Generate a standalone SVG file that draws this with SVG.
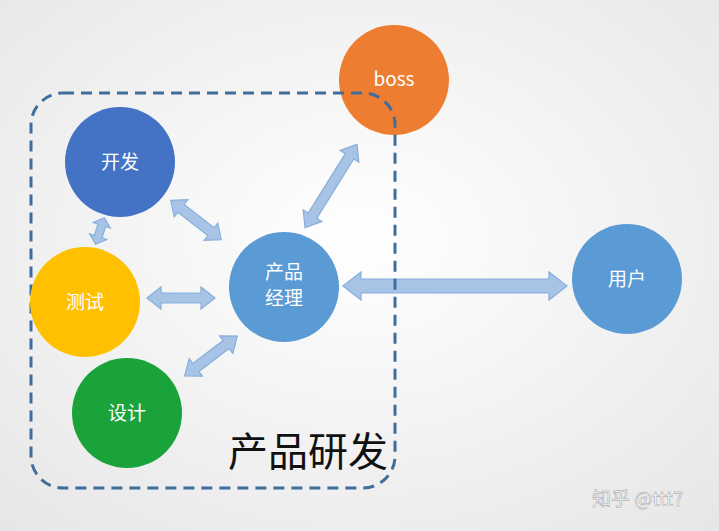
<svg xmlns="http://www.w3.org/2000/svg" width="719" height="531" viewBox="0 0 719 531">
<defs>
<radialGradient id="bg" cx="0.5" cy="0.45" r="0.75">
<stop offset="0" stop-color="#ffffff"/><stop offset="1" stop-color="#e6e6e6"/>
</radialGradient>
<style>
.c{stroke:none}
.t{font-family:"Noto Sans CJK SC","Liberation Sans",sans-serif;fill:#fff;font-size:19px;text-anchor:middle}
.a{fill:#a7c4e6;stroke:#86aedb;stroke-width:1.2}
</style>
</defs>
<rect width="719" height="531" fill="url(#bg)"/>
<g id="connectors">
<path class="a" transform="translate(196,220) rotate(38)" d="M-32,0 L-19,-11 L-19,-5 L19,-5 L19,-11 L32,0 L19,11 L19,5 L-19,5 L-19,11 Z"/>
<path class="a" transform="translate(100,231) rotate(-72)" d="M-14,0 L-6,-9 L-6,-4 L6,-4 L6,-9 L14,0 L6,9 L6,4 L-6,4 L-6,9 Z"/>
<path class="a" transform="translate(181,298)" d="M-34,0 L-20,-11 L-20,-5 L20,-5 L20,-11 L34,0 L20,11 L20,5 L-20,5 L-20,11 Z"/>
<path class="a" transform="translate(211,356) rotate(-37)" d="M-33,0 L-19,-11 L-19,-5 L19,-5 L19,-11 L33,0 L19,11 L19,5 L-19,5 L-19,11 Z"/>
<path class="a" transform="translate(331,186) rotate(-58)" d="M-49,0 L-35,-11 L-35,-5 L35,-5 L35,-11 L49,0 L35,11 L35,5 L-35,5 L-35,11 Z"/>
<path class="a" transform="translate(455,286)" d="M-112,0 L-94,-14 L-94,-7 L94,-7 L94,-14 L112,0 L94,14 L94,7 L-94,7 L-94,14 Z"/>
</g>
<g id="boss"><circle class="c" cx="394" cy="80" r="55" fill="#ed7d31"/><text class="t" x="394" y="86">boss</text></g>
<rect x="31" y="93" width="364" height="395" rx="32" fill="none" stroke="#3f6e9c" stroke-width="3" stroke-dasharray="11,7"/>
<g id="kaifa"><circle class="c" cx="120" cy="162" r="55" fill="#4472c4"/><text class="t" x="120" y="169">开发</text></g>
<g id="ceshi"><circle class="c" cx="85" cy="302" r="55" fill="#ffc000"/><text class="t" x="85" y="309">测试</text></g>
<g id="sheji"><circle class="c" cx="127" cy="413" r="55" fill="#1aa33a"/><text class="t" x="127" y="420">设计</text></g>
<g id="pm"><circle class="c" cx="284" cy="287" r="55" fill="#5b9bd5"/><text class="t" x="284" y="279">产品</text><text class="t" x="284" y="305">经理</text></g>
<g id="user"><circle class="c" cx="627" cy="279" r="55" fill="#5b9bd5"/><text class="t" x="627" y="286">用户</text></g>
<text x="228" y="466" font-family="Noto Sans CJK SC,sans-serif" font-size="40" fill="#111">产品研发</text>
<text x="592" y="506" font-family="Noto Sans CJK SC,sans-serif" font-size="19" fill="#ffffff" stroke="#999" stroke-width="0.5">知乎 @ttt7</text>
</svg>
